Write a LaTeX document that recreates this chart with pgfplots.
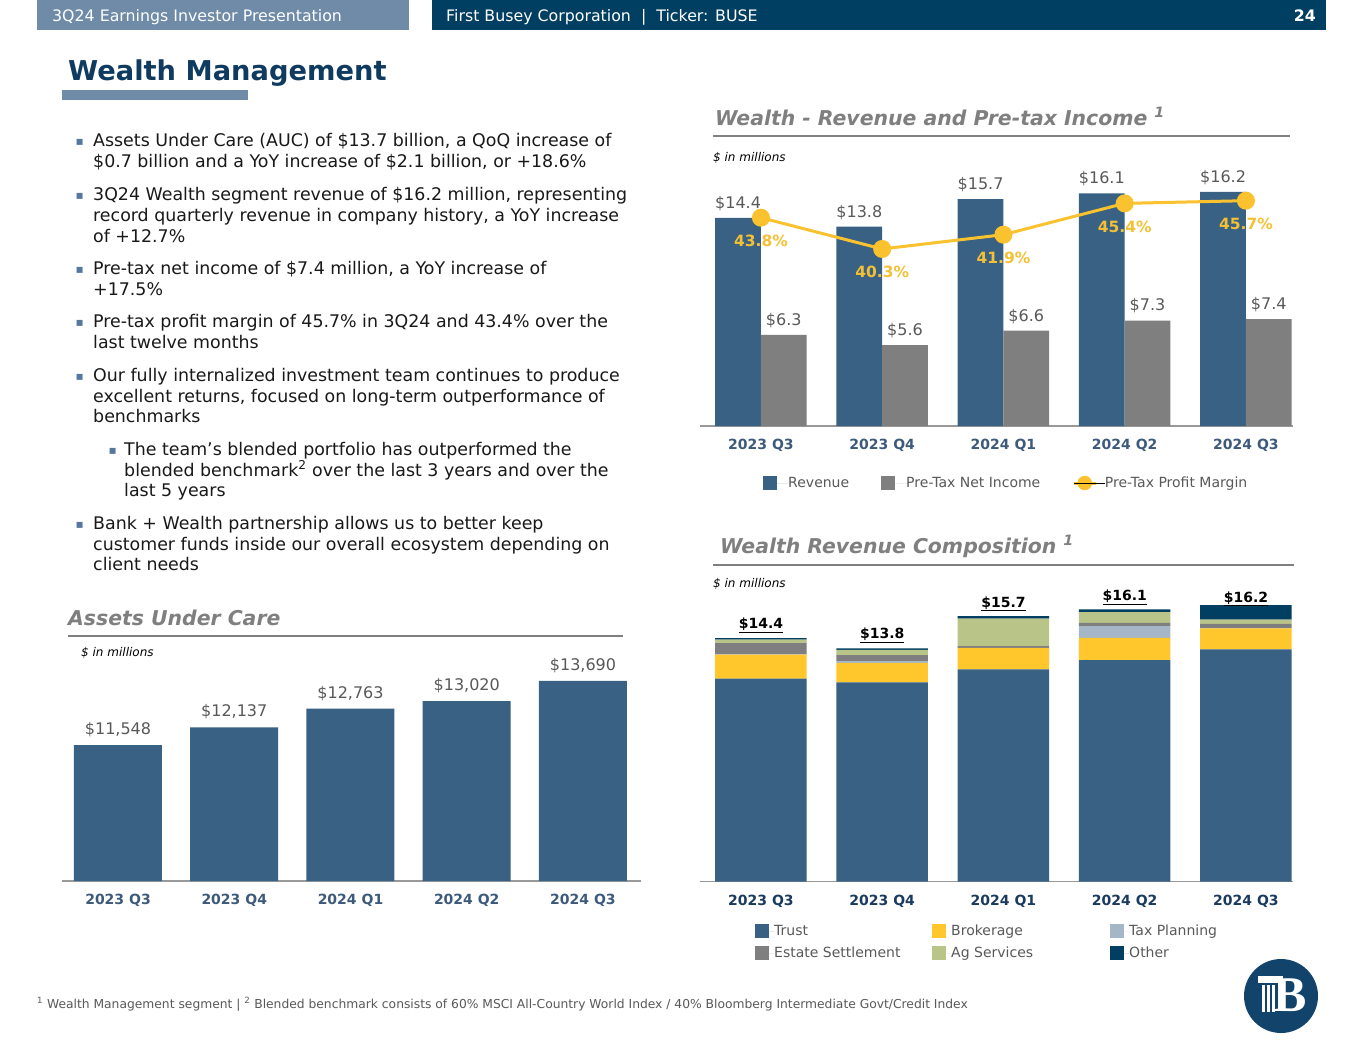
\documentclass[border=0pt]{standalone}
\usepackage{fontspec}
\setmainfont{DejaVu Sans}
\newfontfamily\serifb{Liberation Serif}
\usepackage{pgfplots}
\pgfplotsset{compat=1.18}

\definecolor{trust}{HTML}{386183}
\definecolor{ptgray}{HTML}{7F7F7F}
\definecolor{broker}{HTML}{FFC72C}
\definecolor{taxpl}{HTML}{A5B6C6}
\definecolor{agserv}{HTML}{B8C488}
\definecolor{other}{HTML}{003F62}
\definecolor{marg}{HTML}{FAC22E}
\definecolor{marglab}{HTML}{F5C134}
\definecolor{labgray}{HTML}{595959}
\definecolor{slate}{HTML}{3D5A7B}
\definecolor{navytick}{HTML}{1A3A5E}
\definecolor{hdrlight}{HTML}{6F8BA8}
\definecolor{hdrdark}{HTML}{003F62}
\definecolor{titlenavy}{HTML}{0E3B5F}
\definecolor{secgray}{HTML}{7F7F7F}
\definecolor{bulletc}{HTML}{5577A0}
\definecolor{logoc}{HTML}{12446B}

\newcommand\fs[2]{\fontsize{#1}{#2}\selectfont}

\pgfplotsset{
  slide axis/.style={
    scale only axis, anchor=south west, enlargelimits=false,
    axis x line*=bottom, axis y line=none,
    x axis line style={draw=ptgray!80, line width=1.5pt},
    major tick length=0pt, ytick=\empty,
    x tick label style={inner sep=0pt, anchor=north},
  },
  sq legend/.style={legend image code/.code={
    \fill[##1] (0pt,-7pt) rectangle (14pt,7pt);
    \path (0pt,0pt) -- (#1,0pt);}},
}

\begin{document}
\begin{tikzpicture}
\path[use as bounding box, fill=white] (0pt,0pt) rectangle (1365pt,-1055pt);

\begin{scope}[x=1pt,y=-1pt]
% header
\fill[hdrlight] (37,0) rectangle (409,30);
\fill[hdrdark] (432,0) rectangle (1326,30);
\node[anchor=base west, inner sep=0pt, text=white, font=\fs{15.8}{15.8}] at (52,21) {3Q24 Earnings Investor Presentation};
\node[anchor=base west, inner sep=0pt, text=white, font=\fs{15.8}{15.8}] at (446,21) {First Busey Corporation \ | \ Ticker: BUSE};
\node[anchor=base east, inner sep=0pt, text=white, font=\bfseries\fs{15.8}{15.8}] at (1316,21) {24};

% title
\node[anchor=base west, inner sep=0pt, text=titlenavy, font=\bfseries\fs{27.3}{27.3}] at (68,80) {Wealth Management};
\fill[hdrlight] (62,90) rectangle (248,100);

% bullets
\newcommand\bl[3]{\node[anchor=base west, inner sep=0pt, font=\fs{17.4}{17.4}, text=black!90] at (#1,#2) {#3};}
\newcommand\bu[2]{\node[anchor=base west, inner sep=0pt, font=\fs{12}{12}, text=bulletc] at (#1,#2) {▪};}
\bu{75.5}{145}
\bl{93}{146}{Assets Under Care (AUC) of \$13.7 billion, a QoQ increase of}
\bl{93}{167}{\$0.7 billion and a YoY increase of \$2.1 billion, or +18.6\%}
\bu{75.5}{199}
\bl{93}{200}{3Q24 Wealth segment revenue of \$16.2 million, representing}
\bl{93}{221}{record quarterly revenue in company history, a YoY increase}
\bl{93}{242}{of +12.7\%}
\bu{75.5}{273}
\bl{93}{274}{Pre-tax net income of \$7.4 million, a YoY increase of}
\bl{93}{295}{+17.5\%}
\bu{75.5}{326}
\bl{93}{327}{Pre-tax profit margin of 45.7\% in 3Q24 and 43.4\% over the}
\bl{93}{348}{last twelve months}
\bu{75.5}{380}
\bl{93}{381}{Our fully internalized investment team continues to produce}
\bl{93}{402}{excellent returns, focused on long-term outperformance of}
\bl{93}{422}{benchmarks}
\bu{108.5}{454}
\bl{124}{455}{The team’s blended portfolio has outperformed the}
\bl{124}{476}{blended benchmark\textsuperscript{2} over the last 3 years and over the}
\bl{124}{496}{last 5 years}
\bu{75.5}{528}
\bl{93}{529}{Bank + Wealth partnership allows us to better keep}
\bl{93}{550}{customer funds inside our overall ecosystem depending on}
\bl{93}{570}{client needs}

% section titles
\node[anchor=base west, inner sep=0pt, text=secgray, font=\bfseries\itshape\fs{20.4}{20.4}] at (715,125) {Wealth - Revenue and Pre-tax Income \textsuperscript{1}};
\draw[secgray, line width=1.5pt] (713,136) -- (1290,136);
\node[anchor=base west, inner sep=0pt, text=secgray, font=\bfseries\itshape\fs{20.4}{20.4}] at (720,553) {Wealth Revenue Composition \textsuperscript{1}};
\draw[secgray, line width=1.5pt] (713,565) -- (1294,565);
\node[anchor=base west, inner sep=0pt, text=secgray, font=\bfseries\itshape\fs{20.4}{20.4}] at (68,625) {Assets Under Care};
\draw[secgray, line width=1.5pt] (68,636) -- (623,636);

\node[anchor=base west, inner sep=0pt, font=\itshape\fs{12}{12}] at (713,161.5) {\$ in millions};
\node[anchor=base west, inner sep=0pt, font=\itshape\fs{12}{12}] at (713,587.5) {\$ in millions};
\node[anchor=base west, inner sep=0pt, font=\itshape\fs{12}{12}] at (81,656.5) {\$ in millions};

% footnote
\node[anchor=base west, inner sep=0pt, text=labgray, font=\fs{12.3}{12.3}] at (37,1008) {\textsuperscript{1} Wealth Management segment | \textsuperscript{2} Blended benchmark consists of 60\% MSCI All-Country World Index / 40\% Bloomberg Intermediate Govt/Credit Index};

% logo
\fill[logoc] (1281,996) circle (37);
\node[text=white, inner sep=0pt, font=\serifb\bfseries\fs{50}{50}] at (1290,995) {B};
\fill[white] (1258,976) rectangle (1283,983);
\foreach \xx in {1262,1267,1272}{\fill[white] (\xx,985) rectangle (\xx+2.5,1012);}
\end{scope}

% ---------- revenue and pre-tax income ----------
\begin{axis}[slide axis, clip=false,
  at={(700.3pt,-426pt)}, width=592.9pt, height=245.6pt,
  xmin=-0.5, xmax=4.39, ymin=0, ymax=17,
  xtick={0,1,2,3,4},
  xticklabels={2023 Q3,2023 Q4,2024 Q1,2024 Q2,2024 Q3},
  x tick label style={font=\bfseries\fs{14}{14}, text=slate, yshift=-13pt},
  ybar, bar width=45.7pt,
  nodes near coords, point meta=explicit symbolic,
  every node near coord/.append style={font=\fs{16}{16}, text=labgray, inner sep=0pt, yshift=7pt},
  legend columns=3, legend cell align=left,
  legend style={at={(0.1058,-0.2321)}, anchor=west, draw=none, fill=none,
    inner sep=0pt, nodes={inner sep=0pt}, font=\fs{14}{14}, text=labgray},
]
\addplot[fill=trust, draw=none, bar shift=-22.85pt, sq legend=25pt]
  coordinates {(0,14.4)[\$14.4] (1,13.8)[\$13.8] (2,15.7)[\$15.7] (3,16.1)[\$16.1] (4,16.2)[\$16.2]};
\addlegendentry{\makebox[93pt][l]{Revenue}}
\addplot[fill=ptgray, draw=none, bar shift=22.85pt, sq legend=25pt]
  coordinates {(0,6.3)[\$6.3] (1,5.6)[\$5.6] (2,6.6)[\$6.6] (3,7.3)[\$7.3] (4,7.4)[\$7.4]};
\addlegendentry{\makebox[166pt][l]{Pre-Tax Net Income}}
\addlegendimage{legend image code/.code={
  \draw[marg, line width=3pt] (0pt,0pt) -- (22pt,0pt);
  \fill[marg] (11pt,0pt) circle (7pt);
  \path (0pt,0pt) -- (31pt,0pt);}}
\addlegendentry{Pre-Tax Profit Margin}
\end{axis}

\begin{axis}[scale only axis, anchor=south west, enlargelimits=false, hide axis, clip=false,
  at={(700.3pt,-426pt)}, width=592.9pt, height=245.6pt,
  xmin=-0.5, xmax=4.39, ymin=20.5, ymax=47.97]
\addplot[marg, line width=3pt, mark=*, mark size=7.5pt, mark options={fill=marg, draw=marg},
  nodes near coords, point meta=explicit symbolic, nodes near coords align={below},
  every node near coord/.append style={font=\bfseries\fs{15.5}{15.5}, text=marglab, inner sep=0pt, yshift=-16pt}]
  coordinates {(0,43.8)[43.8\%] (1,40.3)[40.3\%] (2,41.9)[41.9\%] (3,45.4)[45.4\%] (4,45.7)[45.7\%]};
\end{axis}

% ---------- revenue composition ----------
\begin{axis}[slide axis, clip=false,
  at={(700.3pt,-881.5pt)}, width=592.9pt, height=287.3pt,
  xmin=-0.5, xmax=4.39, ymin=0, ymax=17,
  xtick={0,1,2,3,4},
  xticklabels={2023 Q3,2023 Q4,2024 Q1,2024 Q2,2024 Q3},
  x tick label style={font=\bfseries\fs{14}{14}, text=navytick, yshift=-13.5pt},
  ybar stacked, bar width=91.5pt,
  legend columns=3, legend cell align=left,
  legend style={at={(0.0923,-0.2106)}, anchor=west, draw=none, fill=none,
    inner sep=0pt, nodes={inner sep=0pt}, /tikz/row sep=8pt, font=\fs{14}{14}, text=labgray},
]
\addplot[fill=trust, draw=none, sq legend=19pt]
  coordinates {(0,12.0) (1,11.78) (2,12.55) (3,13.1) (4,13.74)};
\addlegendentry{\makebox[158pt][l]{Trust}}
\addplot[fill=broker, draw=none, sq legend=19pt]
  coordinates {(0,1.42) (1,1.16) (2,1.28) (3,1.32) (4,1.24)};
\addlegendentry{\makebox[159pt][l]{Brokerage}}
\addplot[fill=taxpl, draw=none, sq legend=19pt]
  coordinates {(0,0.02) (1,0.1) (2,0.0) (3,0.69) (4,0.02)};
\addlegendentry{Tax Planning}
\addplot[fill=ptgray, draw=none, sq legend=19pt]
  coordinates {(0,0.66) (1,0.36) (2,0.1) (3,0.2) (4,0.24)};
\addlegendentry{\makebox[158pt][l]{Estate Settlement}}
\addplot[fill=agserv, draw=none, sq legend=19pt]
  coordinates {(0,0.22) (1,0.3) (2,1.63) (3,0.63) (4,0.25)};
\addlegendentry{\makebox[159pt][l]{Ag Services}}
\addplot[fill=other, draw=none, sq legend=19pt,
  nodes near coords, point meta=explicit symbolic,
  every node near coord/.append style={font=\bfseries\fs{14}{14}, text=black, inner sep=0pt, anchor=south, yshift=6pt}]
  coordinates {(0,0.08)[\underline{\$14.4}] (1,0.1)[\underline{\$13.8}] (2,0.14)[\underline{\$15.7}] (3,0.16)[\underline{\$16.1}] (4,0.87)[\underline{\$16.2}]};
\addlegendentry{Other}
\end{axis}

% ---------- assets under care ----------
\begin{axis}[slide axis,
  at={(62.2pt,-881pt)}, width=578.9pt, height=241pt,
  xmin=-0.48, xmax=4.5, ymin=7000, ymax=15061,
  xtick={0,1,2,3,4},
  xticklabels={2023 Q3,2023 Q4,2024 Q1,2024 Q2,2024 Q3},
  x tick label style={font=\bfseries\fs{14}{14}, text=slate, yshift=-13pt},
  ybar, bar width=88pt,
  nodes near coords, point meta=explicit symbolic,
  every node near coord/.append style={font=\fs{16}{16}, text=labgray, inner sep=0pt, yshift=8pt},
]
\addplot[fill=trust, draw=none, bar shift=0pt]
  coordinates {(0,11548)[\$11,548] (1,12137)[\$12,137] (2,12763)[\$12,763] (3,13020)[\$13,020] (4,13690)[\$13,690]};
\end{axis}
\end{tikzpicture}
\end{document}
